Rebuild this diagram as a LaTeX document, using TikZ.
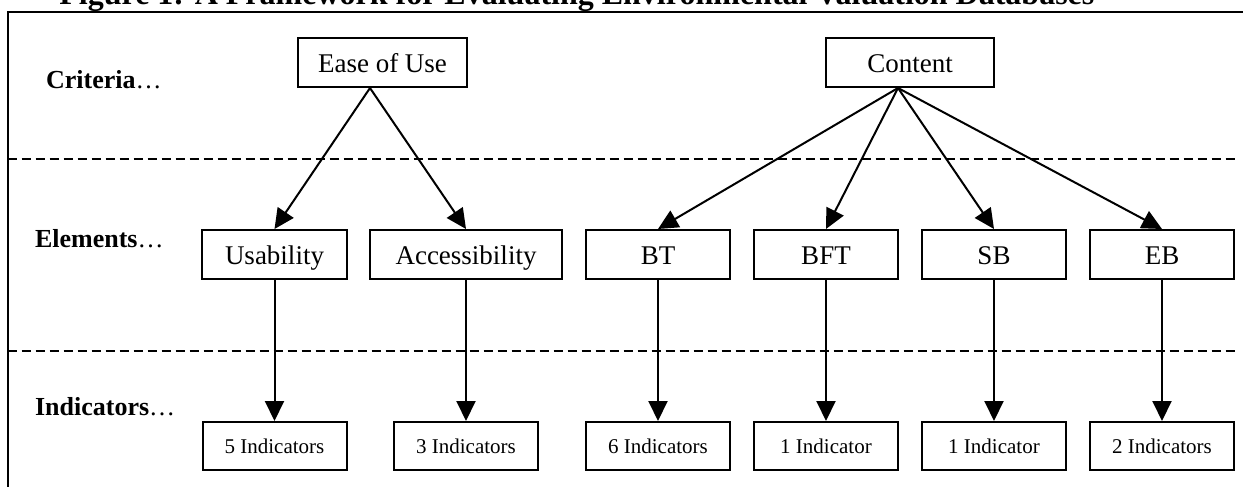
\documentclass[tikz,border=0pt]{standalone}
\usepackage{fontspec}
\setmainfont{Liberation Serif}
\usetikzlibrary{arrows.meta, positioning, calc}

\begin{document}
\begin{tikzpicture}[x=0.5pt, y=-0.5pt, >={Triangle[length=10pt, width=9.5pt]},
  box/.style={draw, line width=1pt, inner sep=0pt, minimum height=24.5pt,
    text height=0.95em, text depth=0pt, font=\fontsize{13.5}{16}\selectfont},
  indbox/.style={draw, line width=1pt, inner sep=0pt, minimum width=72pt,
    minimum height=24pt, text height=0.7em, text depth=0pt,
    font=\fontsize{10.5}{12}\selectfont},
  level/.style={anchor=base west, font=\fontsize{13}{15}\selectfont},
  link/.style={->, line width=1pt}]
  \useasboundingbox (0,0) rectangle (1243,487);
  % --- Title and frame ---
  \node[anchor=base west, inner sep=0pt, font=\fontsize{16}{19}\selectfont\bfseries]
    (title) at (59,4) {Figure 1: A Framework for Evaluating Environmental Valuation Databases};
  \draw[line width=1pt] (7.5,495) -- (7.5,12) -- (1250,12);
  % --- Level separators ---
  \draw[dash pattern=on 4.5pt off 2.5pt, line width=1pt] (7.5,159) -- (1235,159);
  \draw[dash pattern=on 4.5pt off 2.5pt, line width=1pt] (7.5,351) -- (1235,351);
  \node[level] (crit) at (39,88) {\textbf{Criteria}…};
  \node[level] (elem) at (28,247) {\textbf{Elements}…};
  \node[level] (indic) at (28,415) {\textbf{Indicators}…};
  % --- Criteria ---
  \node[box, minimum width=84.5pt] (ease) at (382.5,62.5) {Ease of Use};
  \node[box, minimum width=84pt] (content) at (910,62.5) {Content};
  % --- Elements ---
  \node[box, minimum width=72.5pt] (usab) at (274.5,254.5) {Usability};
  \node[box, minimum width=96pt] (access) at (466,254.5) {Accessibility};
  \node[box, minimum width=72pt] (bt) at (658,254.5) {BT};
  \node[box, minimum width=72pt] (bft) at (826,254.5) {BFT};
  \node[box, minimum width=72pt] (sb) at (994,254.5) {SB};
  \node[box, minimum width=72pt] (eb) at (1162,254.5) {EB};
  % --- Indicators ---
  \node[indbox] (ind5) at (274.5,446) {5 Indicators};
  \node[indbox] (ind3) at (466,446) {3 Indicators};
  \node[indbox] (ind6) at (658,446) {6 Indicators};
  \node[indbox] (ind1a) at (826,446) {1 Indicator};
  \node[indbox] (ind1b) at (994,446) {1 Indicator};
  \node[indbox] (ind2) at (1162,446) {2 Indicators};
  % --- Links ---
  \coordinate (easeout) at ($(ease.south)+(-12.5,0)$);
  \coordinate (contout) at ($(content.south)+(-12,0)$);
  \draw[link] (easeout) -- (usab.north);
  \draw[link] (easeout) -- (access.north);
  \foreach \n in {bt, bft, sb, eb}
    \draw[link] (contout) -- (\n.north);
  \foreach \a/\b in {usab/ind5, access/ind3, bt/ind6, bft/ind1a, sb/ind1b, eb/ind2}
    \draw[link] (\a.south) -- (\b.north);
\end{tikzpicture}
\end{document}
